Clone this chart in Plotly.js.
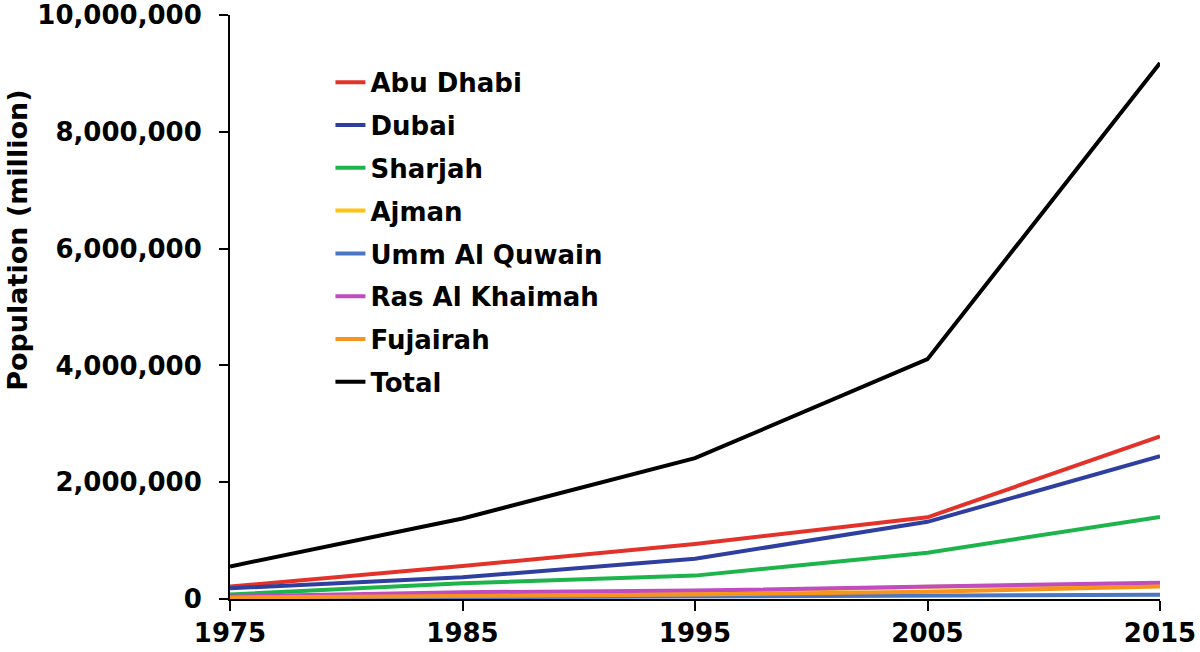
<!DOCTYPE html>
<html>
<head>
<meta charset="utf-8">
<script src="https://cdn.plot.ly/plotly-3.0.1.min.js"></script>
<style>
  html, body { margin: 0; padding: 0; background: #fff; }
  #plot { width: 1200px; height: 652px; }
</style>
</head>
<body>
<div id="plot"></div>
<script>
// tahun sensus
const years = [1975, 1985, 1995, 2005, 2015];

// nilai populasi per emirat
const abuDhabi = [211812, 566036, 942463, 1399484, 2784490];
const dubai = [183187, 370788, 689420, 1321453, 2446675];
const sharjah = [78790, 268722, 400339, 793573, 1405843];
const ajman = [16690, 64318, 118812, 207997, 240000];
const ummAlQuwain = [16879, 29229, 35157, 49159, 72000];
const rasAlKhaimah = [43845, 116470, 144430, 210063, 280000];
const fujairah = [26498, 54425, 76254, 125698, 215000];
const total = [557887, 1379303, 2411041, 4106427, 9180000];

const names = ['Abu Dhabi', 'Dubai', 'Sharjah', 'Ajman', 'Umm Al Quwain', 'Ras Al Khaimah', 'Fujairah', 'Total'];
const series = [abuDhabi, dubai, sharjah, ajman, ummAlQuwain, rasAlKhaimah, fujairah, total];
const colors = ['#e2322a', '#2f3f9f', '#1db44b', '#ffc20e', '#4a76c2', '#c04cbf', '#f7941d', '#000000'];

const yTicks = [0, 2000000, 4000000, 6000000, 8000000, 10000000];

const font = { family: 'DejaVu Sans, Verdana, sans-serif', weight: 'bold', color: '#000' };

const data = series.map((vals, i) => ({
    x: years,
    y: vals,
    name: names[i],
    legendgroup: 'g' + i,
    type: 'scatter',
    mode: 'lines',
    line: { color: colors[i], width: 4 }
}));

const layout = {
    width: 1200,
    height: 652,
    margin: { l: 230, r: 40, t: 15, b: 53 },
    paper_bgcolor: '#fff',
    plot_bgcolor: '#fff',
    font: Object.assign({ size: 24 }, font),
    showlegend: true,
    legend: {
        x: 0.108, y: 0.925,
        xanchor: 'left', yanchor: 'top',
        font: Object.assign({ size: 26 }, font),
        tracegroupgap: 6,
        itemwidth: 30,
        bgcolor: 'rgba(0,0,0,0)'
    },
    xaxis: {
        range: [1975, 2015],
        tickvals: years,
        ticktext: years.map(String),
        showgrid: false,
        zeroline: false,
        showline: true,
        linecolor: '#000',
        linewidth: 2,
        ticks: 'outside',
        ticklen: 10,
        tickwidth: 2,
        tickcolor: '#000',
        tickfont: Object.assign({ size: 26 }, font)
    },
    yaxis: {
        range: [0, 10000000],
        tickvals: yTicks,
        tickformat: ',d',
        showgrid: false,
        zeroline: false,
        showline: true,
        linecolor: '#000',
        linewidth: 2,
        ticks: 'outside',
        ticklen: 9,
        tickwidth: 2,
        tickcolor: '#000',
        ticklabelstandoff: 12,
        tickfont: Object.assign({ size: 26 }, font)
    },
    // judul sumbu y, digeser ke atas seperti pada gambar asli
    annotations: [{
        text: 'Population (million)',
        xref: 'paper', yref: 'paper',
        x: -0.228, y: 0.615,
        xanchor: 'center', yanchor: 'middle',
        textangle: -90,
        showarrow: false,
        font: Object.assign({ size: 27 }, font)
    }]
};

Plotly.newPlot('plot', data, layout, { displayModeBar: false, staticPlot: true });
</script>
</body>
</html>
